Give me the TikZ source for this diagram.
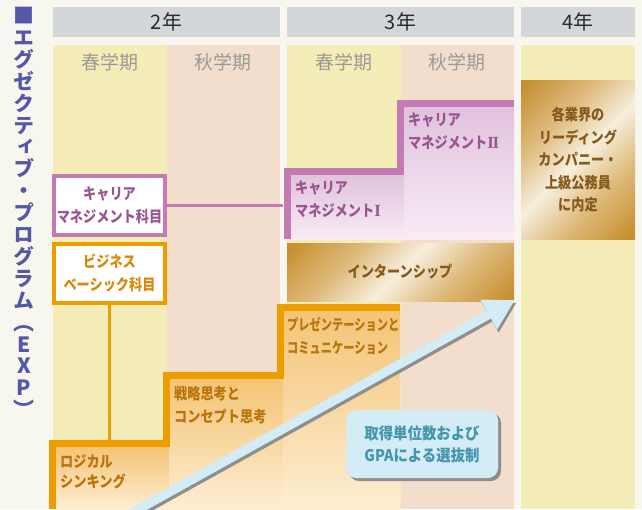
\documentclass[tikz,border=0pt]{standalone}
\usepackage{fontspec}
\newfontfamily\jp{Noto Sans CJK JP}
\newfontfamily\jpv[RawFeature=+vert]{Noto Sans CJK JP}
\newfontfamily\jpn[FakeStretch=0.85]{Noto Sans CJK JP}
\newfontfamily\jpp[FakeStretch=0.75]{Noto Sans CJK JP}
\newfontfamily\jpq[FakeStretch=0.9]{Noto Sans CJK JP}
\newfontfamily\rom{Liberation Serif}
\usetikzlibrary{arrows.meta,shadows}
\definecolor{bgc}{HTML}{F8F7EF}
\definecolor{hdrgray}{HTML}{D3D7DA}
\definecolor{spring}{HTML}{F5EDB8}
\definecolor{autumn}{HTML}{F3DECD}
\definecolor{yeartext}{HTML}{2B2B2B}
\definecolor{semgray}{HTML}{9C9A96}
\definecolor{pinkline}{HTML}{C47AB4}
\definecolor{pinktext}{HTML}{9A5592}
\definecolor{pinktop}{HTML}{E1C2DD}
\definecolor{pinkbot}{HTML}{F8ECF5}
\definecolor{orline}{HTML}{EE9D00}
\definecolor{ortext}{HTML}{B9740C}
\definecolor{ortext2}{HTML}{D6890A}
\definecolor{ortop}{HTML}{F4C476}
\definecolor{orbot}{HTML}{FDEED3}
\definecolor{golddark}{HTML}{C68F2F}
\definecolor{goldmid}{HTML}{DDB97A}
\definecolor{cream}{HTML}{F7EFDD}
\definecolor{goldtext}{HTML}{855A1C}
\definecolor{bluefill}{HTML}{D3ECF5}
\definecolor{bluetext}{HTML}{4595AC}
\definecolor{shadowgray}{HTML}{8E8E8E}
\definecolor{titleblue}{HTML}{5558A8}
\pgfdeclarehorizontalshading{goldband}{100bp}{color(0bp)=(golddark); color(16bp)=(golddark); color(34bp)=(goldmid); color(50bp)=(cream); color(66bp)=(goldmid); color(84bp)=(golddark); color(100bp)=(golddark)}
\begin{document}
\begin{tikzpicture}[x=1pt,y=-1pt,
  yeartxt/.style={font=\jp\fontsize{20}{20}\selectfont, text=yeartext, inner sep=0},
  semtxt/.style={font=\jp\fontsize{19}{19}\selectfont, text=semgray, inner sep=0},
  titletxt/.style={font=\jpv\bfseries\fontsize{21}{21.9}\selectfont, text=titleblue, inner sep=0, align=center},
  boxtxt/.style={font=\jpn\bfseries\fontsize{15.5}{23}\selectfont, inner sep=0},
  leftbox/.style={boxtxt, fill=white, line width=4pt, minimum width=111pt, minimum height=59pt, align=center},
  goldshade/.style={shading=goldband, shading angle=-45},
  orshade/.style={top color=ortop, bottom color=orbot},
  pinkshade/.style={top color=pinktop, bottom color=pinkbot},
  stair/.style={line width=7pt, line cap=butt, line join=miter},
  link/.style={line width=3pt},
]
\useasboundingbox (0,0) rectangle (642,509);
\fill[bgc] (0,0) rectangle (642,509);
\begin{scope}
\clip (0,0) rectangle (642,509);
% headers
\fill[hdrgray] (53,7) rectangle (280,37);
\fill[hdrgray] (287,7) rectangle (514,37);
\fill[hdrgray] (521,7) rectangle (635,37);
\node[yeartxt] (y2) at (166.5,22) {2年};
\node[yeartxt] (y3) at (400.5,22) {3年};
\node[yeartxt] (y4) at (578,22) {4年};
% columns
\fill[spring] (53,45) rectangle (166.5,509);
\fill[autumn] (166.5,45) rectangle (280,509);
\fill[spring] (287,45) rectangle (400.5,509);
\fill[autumn] (400.5,45) rectangle (514,509);
\fill[spring] (521,45) rectangle (635,509);
\node[semtxt] (s1) at (110,62) {春学期};
\node[semtxt] (s2) at (223,62) {秋学期};
\node[semtxt] (s3) at (344,62) {春学期};
\node[semtxt] (s4) at (457,62) {秋学期};
% title
\node[titletxt, anchor=north] (title) at (24,7)
  {■\\エ\\グ\\ゼ\\ク\\テ\\ィ\\ブ\\・\\プ\\ロ\\グ\\ラ\\ム\\（\\E\\X\\P\\）};
% 4th year
\shade[goldshade] (521,80) rectangle (635,239);
\node[boxtxt, text=goldtext, align=center, font=\jpn\bfseries\fontsize{15.5}{22.5}\selectfont] (job) at (578,160)
  {各業界の\\リーディング\\カンパニー・\\上級公務員\\に内定};
% career management stairs
\shade[pinkshade] (291,175) rectangle (404,239);
\shade[pinkshade] (404,107) rectangle (514,239);
\draw[stair, pinkline] (287,239) -- (287,171.5) -- (400.5,171.5) -- (400.5,103.5) -- (514,103.5);
\node[boxtxt, text=pinktext, anchor=west, align=left] (cm1) at (295,199) {キャリア\\マネジメント{\rom\bfseries\fontsize{17}{23}\selectfont I}};
\node[boxtxt, text=pinktext, anchor=west, align=left] (cm2) at (408,131) {キャリア\\マネジメント{\rom\bfseries\fontsize{17}{23}\selectfont I\kern-1.2pt I}};
\coordinate (cm1in) at (283,205.5);
% internship
\shade[goldshade] (287,243) rectangle (514,301);
\node[boxtxt, text=goldtext] (intern) at (400,272) {インターンシップ};
% orange stairs
\shade[orshade] (56,447) rectangle (169,509);
\shade[orshade] (169,379) rectangle (283,509);
\shade[orshade] (283,310) rectangle (400,509);
\draw[stair, orline] (52.5,509) -- (52.5,443.5) -- (166,443.5) -- (166,375.5) -- (280,375.5) -- (280,307) -- (400,307);
\coordinate (ltin) at (109.5,440);
\node[boxtxt, text=ortext, anchor=west, align=left, font=\jpn\bfseries\fontsize{15.5}{20}\selectfont] (lt) at (60,472) {ロジカル\\シンキング};
\node[boxtxt, text=ortext, anchor=west, align=left] (st) at (174,405.5) {戦略思考と\\コンセプト思考};
\node[boxtxt, text=ortext, anchor=west, align=left, font=\jpp\bfseries\fontsize{15}{23}\selectfont] (pc) at (287,336.5) {プレゼンテーションと\\コミュニケーション};
% left boxes
\node[leftbox, draw=pinkline, text=pinktext] (cm) at (109.5,205.5) {キャリア\\マネジメント科目};
\node[leftbox, draw=orline, text=ortext2] (bb) at (109.5,273.5) {ビジネス\\ベーシック科目};
\draw[link, pinkline] (cm.east) -- (cm1in);
\draw[link, orline] (bb.south) -- (ltin);
% arrow
\coordinate (atail) at (100.6,530.4);
\coordinate (atip) at (515,300);
\draw[shadowgray, line width=9pt, -{Triangle[length=30pt,width=32pt]}, transform canvas={shift={(1.5,3)}}] (atail) -- (atip);
\draw[bluefill, line width=9pt, -{Triangle[length=30pt,width=32pt]}] (atail) -- (atip);
% selection box
\node[boxtxt, text=bluetext, align=center, fill=bluefill, rounded corners=10pt, minimum width=152pt, minimum height=68pt, font=\jpq\bfseries\fontsize{16}{22}\selectfont,
  drop shadow={shadow xshift=3pt, shadow yshift=-3pt, fill=shadowgray, opacity=1}] (sel) at (422,444) {取得単位数および\\GPAによる選抜制};
\end{scope}
\end{tikzpicture}
\end{document}
